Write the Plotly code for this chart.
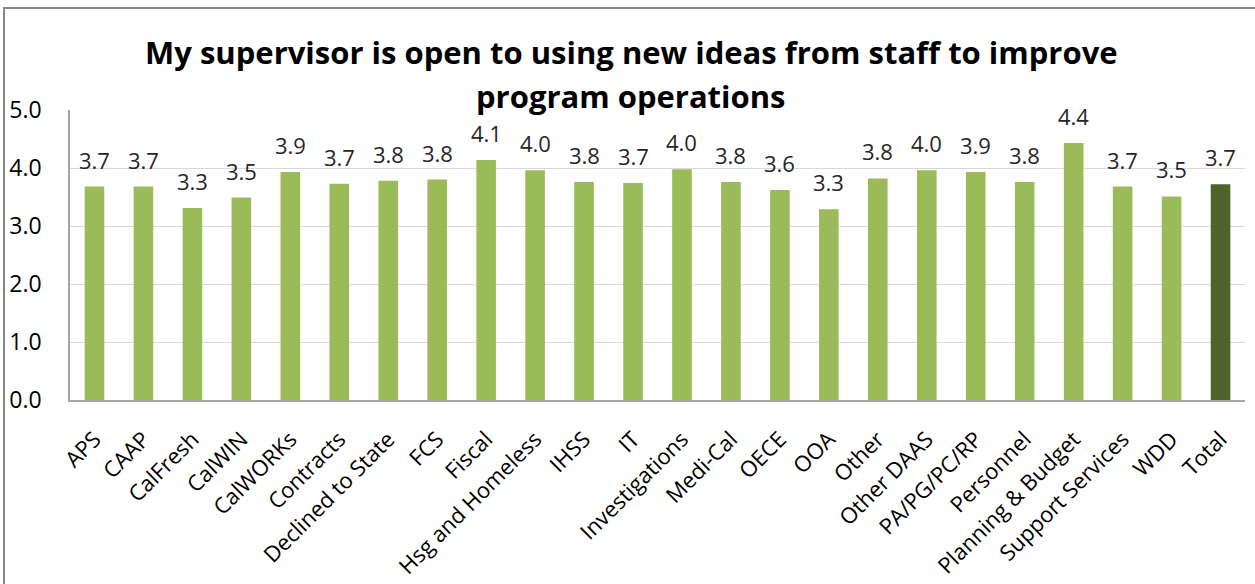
import plotly.graph_objects as go

categories = ["APS", "CAAP", "CalFresh", "CalWIN", "CalWORKs", "Contracts", "Declined to State",
              "FCS", "Fiscal", "Hsg and Homeless", "IHSS", "IT", "Investigations", "Medi-Cal",
              "OECE", "OOA", "Other", "Other DAAS", "PA/PG/PC/RP", "Personnel",
              "Planning & Budget", "Support Services", "WDD", "Total"]
values = [3.68, 3.68, 3.31, 3.49, 3.93, 3.73, 3.78, 3.80, 4.14, 3.96, 3.76, 3.74, 3.98, 3.76,
          3.62, 3.29, 3.82, 3.96, 3.93, 3.76, 4.43, 3.68, 3.51, 3.72]
title_lines = ["My supervisor is open to using new ideas from staff to improve",
               "program operations"]

FONT = "Open Sans"
colors = ["#4F6228" if c == "Total" else "#9BBB59" for c in categories]

L, R, T, B = 70, 10, 110, 184
W, H = 1255, 584
pw, ph = W - L - R, H - T - B

def px_x(px):
    return (px - L) / pw

def px_y(py):
    return (H - B - py) / ph

fig = go.Figure()
fig.add_trace(go.Bar(x=categories, y=values, marker=dict(color=colors, line=dict(width=0)),
                     showlegend=False, hoverinfo="x+y"))

for c, v in zip(categories, values):
    fig.add_annotation(x=c, y=v, text=f"{v:.1f}", showarrow=False, yanchor="bottom",
                       yshift=10, font=dict(family=FONT, size=22, color="#262626"))

for line, cy in zip(title_lines, [52, 96]):
    fig.add_annotation(xref="paper", yref="paper", x=px_x(631), y=px_y(cy), text=line,
                       showarrow=False, xanchor="center", yanchor="middle",
                       font=dict(family=FONT, size=31, color="black", weight="bold"))

fig.add_shape(type="rect", xref="paper", yref="paper",
              x0=px_x(4), x1=px_x(1300), y0=px_y(8), y1=px_y(640),
              line=dict(color="#868686", width=2), fillcolor="rgba(0,0,0,0)", layer="below")

fig.update_layout(
    width=W, height=H,
    margin=dict(l=L, r=R, t=T, b=B, autoexpand=False),
    paper_bgcolor="white", plot_bgcolor="white",
    bargap=0.6,
    font=dict(family=FONT, color="black"),
    xaxis=dict(tickangle=-45, tickfont=dict(family=FONT, size=22, color="black"),
               showline=True, linecolor="#a6a6a6", linewidth=1.5, showgrid=False,
               ticks="", ticklabelstandoff=16, automargin=False),
    yaxis=dict(range=[0, 5], dtick=1, tickformat=".1f",
               tickfont=dict(family=FONT, size=23, color="black"),
               showline=True, linecolor="#a6a6a6", linewidth=1.5,
               showgrid=True, gridcolor="#d9d9d9", gridwidth=1, zeroline=False,
               ticks="", ticklabelstandoff=22, automargin=False),
)

fig.write_html("out.html", config={"displayModeBar": False},
               post_script="document.body.style.margin='0';document.body.style.overflow='hidden';")
